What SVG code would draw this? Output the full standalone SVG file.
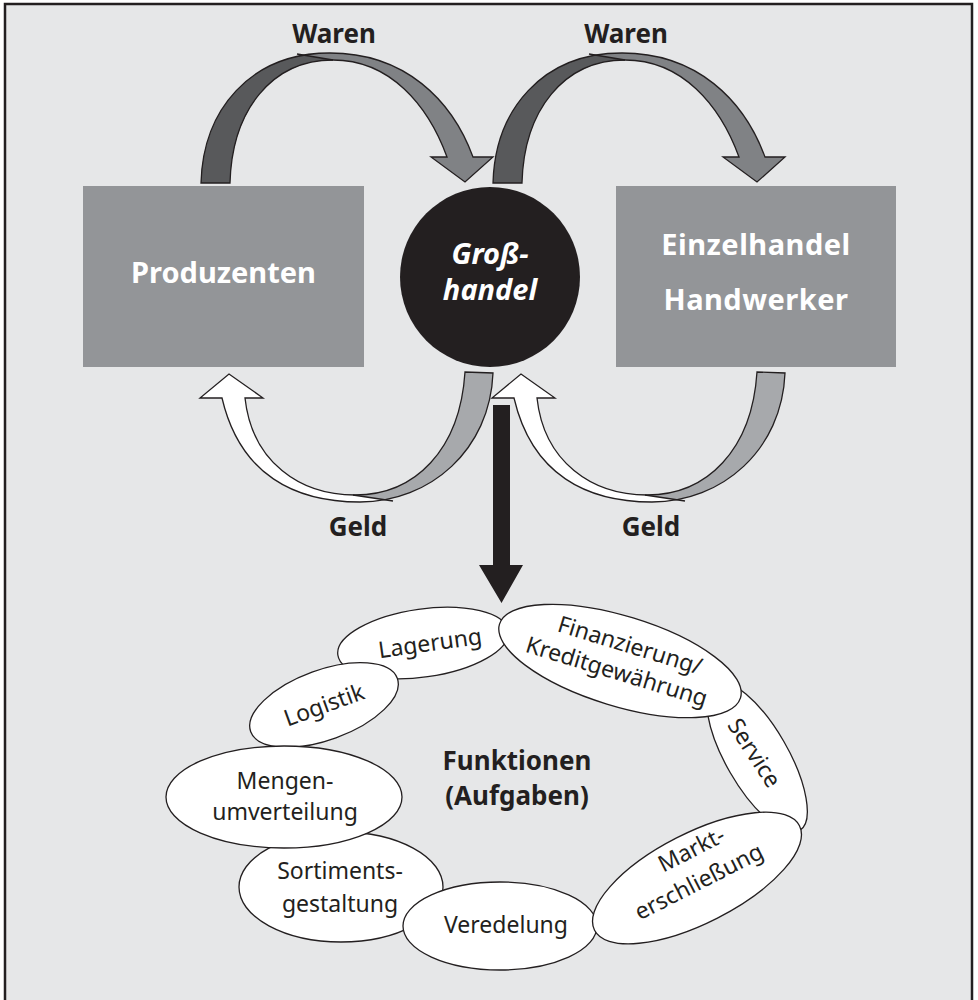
<svg xmlns="http://www.w3.org/2000/svg" width="978" height="1000" viewBox="0 0 978 1000">
  <style>
    .frame { fill: #e6e7e8; stroke: #231f20; stroke-width: 2.5; }
    .box { fill: #939598; }
    .boxtext { font-family: "Noto Sans", "Liberation Sans", sans-serif; font-weight: 700; font-size: 29px; fill: #ffffff; text-anchor: middle; }
    .hubtext { font-family: "Noto Sans", "Liberation Sans", sans-serif; font-weight: 700; font-style: italic; font-size: 29px; fill: #ffffff; text-anchor: middle; }
    .label { font-family: "Noto Sans", "Liberation Sans", sans-serif; font-weight: 700; font-size: 26px; fill: #231f20; text-anchor: middle; }
    .edge { stroke: #231f20; stroke-width: 1.3; stroke-linejoin: miter; }
    .ell { fill: #ffffff; stroke: #231f20; stroke-width: 1.3; }
    .etext { font-family: "Noto Sans", "Liberation Sans", sans-serif; font-size: 23px; fill: #231f20; text-anchor: middle; }
  </style>
  <defs>
    <!-- ribbon arrow over the top: goods flow -->
    <path id="topRibbon" d="M201,183 C203,110 250,53 330,53 C405,53 452,100 473,157 L493,157 L465,182 L431,157 L447,157 C428,105 390,60 333,60 C272,60 232,110 230,183 Z"/>
    <clipPath id="topLeftPart">
      <polygon points="150,29.5 333,60 333,200 150,200"/>
    </clipPath>
    <!-- ribbon arrow underneath: money flow -->
    <path id="bottomRibbon" d="M493,373 C490,450 430,502 360,502 C295,502 240,475 222,398 L200,398 L229,374 L263,398 L245,398 C252,462 300,495 355,495 C415,495 460,450 465,372 Z"/>
    <clipPath id="bottomRightPart">
      <polygon points="353,300 353,495 560,526 560,300"/>
    </clipPath>
  </defs>

  <rect class="frame" x="5" y="4" width="967" height="1010"/>

  <!-- connectors -->
  <g id="connectors">
    <g id="waren-1">
      <use href="#topRibbon" fill="#808285"/>
      <use href="#topRibbon" fill="#58595b" clip-path="url(#topLeftPart)"/>
      <use href="#topRibbon" fill="none" class="edge"/>
      <line x1="297" y1="54" x2="333" y2="60" class="edge"/>
    </g>
    <g id="waren-2" transform="translate(292,0)">
      <use href="#topRibbon" fill="#808285"/>
      <use href="#topRibbon" fill="#58595b" clip-path="url(#topLeftPart)"/>
      <use href="#topRibbon" fill="none" class="edge"/>
      <line x1="297" y1="54" x2="333" y2="60" class="edge"/>
    </g>
    <g id="geld-1">
      <use href="#bottomRibbon" fill="#ffffff"/>
      <use href="#bottomRibbon" fill="#a7a9ac" clip-path="url(#bottomRightPart)"/>
      <use href="#bottomRibbon" fill="none" class="edge"/>
      <line x1="353" y1="495" x2="393" y2="501" class="edge"/>
    </g>
    <g id="geld-2" transform="translate(292,0)">
      <use href="#bottomRibbon" fill="#ffffff"/>
      <use href="#bottomRibbon" fill="#a7a9ac" clip-path="url(#bottomRightPart)"/>
      <use href="#bottomRibbon" fill="none" class="edge"/>
      <line x1="353" y1="495" x2="393" y2="501" class="edge"/>
    </g>
    <path id="to-functions" d="M493,405 L510,405 L510,565 L523,565 L501.5,603 L479,565 L493,565 Z" fill="#231f20"/>
    <text class="label" x="334" y="43">Waren</text>
    <text class="label" x="626" y="43">Waren</text>
    <text class="label" x="358" y="536">Geld</text>
    <text class="label" x="651" y="536">Geld</text>
  </g>

  <g id="produzenten">
    <rect class="box" x="83" y="186" width="281" height="181"/>
    <text class="boxtext" x="223.5" y="283">Produzenten</text>
  </g>

  <g id="grosshandel">
    <circle cx="490" cy="277" r="90" fill="#231f20"/>
    <text class="hubtext" x="490" y="264">Groß-</text>
    <text class="hubtext" x="490" y="300">handel</text>
  </g>

  <g id="einzelhandel">
    <rect class="box" x="616" y="186" width="280" height="181"/>
    <text class="boxtext" x="756" y="255" letter-spacing="0.5">Einzelhandel</text>
    <text class="boxtext" x="756" y="310" letter-spacing="0.5">Handwerker</text>
  </g>

  <!-- ring of functions -->
  <g id="service" transform="translate(757,757) rotate(60)">
    <ellipse class="ell" cx="0" cy="0" rx="85" ry="31"/>
    <text class="etext" x="-5" y="8" transform="rotate(-3)">Service</text>
  </g>
  <g id="lagerung" transform="translate(423,643) rotate(-8)">
    <ellipse class="ell" cx="0" cy="0" rx="86" ry="34"/>
    <text class="etext" x="7" y="9">Lagerung</text>
  </g>
  <g id="finanzierung" transform="translate(620,661) rotate(17)">
    <ellipse class="ell" cx="0" cy="0" rx="126" ry="45"/>
    <text class="etext" x="5" y="-10">Finanzierung/</text>
    <text class="etext" x="0" y="19">Kreditgewährung</text>
  </g>
  <g id="logistik" transform="translate(324,705) rotate(-20)">
    <ellipse class="ell" cx="0" cy="0" rx="78" ry="35"/>
    <text class="etext" x="0" y="8">Logistik</text>
  </g>
  <g id="sortiment">
    <ellipse class="ell" cx="341" cy="887" rx="102" ry="55"/>
    <text class="etext" x="340" y="879">Sortiments-</text>
    <text class="etext" x="340" y="912">gestaltung</text>
  </g>
  <g id="mengen">
    <ellipse class="ell" cx="284" cy="797" rx="118" ry="51"/>
    <text class="etext" x="285" y="789">Mengen-</text>
    <text class="etext" x="285" y="820">umverteilung</text>
  </g>
  <g id="veredelung">
    <ellipse class="ell" cx="500" cy="926" rx="97" ry="44"/>
    <text class="etext" x="506" y="933">Veredelung</text>
  </g>
  <g id="markt" transform="translate(697,878) rotate(-27)">
    <ellipse class="ell" cx="0" cy="0" rx="115" ry="45"/>
    <text class="etext" x="8" y="-20">Markt-</text>
    <text class="etext" x="0" y="12">erschließung</text>
  </g>

  <g id="funktionen">
    <text class="label" x="517" y="770">Funktionen</text>
    <text class="label" x="517" y="805">(Aufgaben)</text>
  </g>
</svg>
